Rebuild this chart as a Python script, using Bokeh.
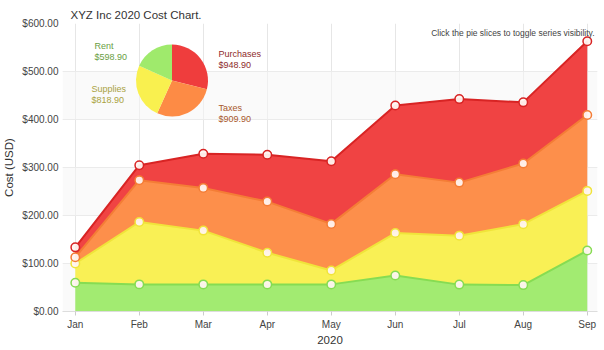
import numpy as np
from bokeh.plotting import figure
from bokeh.models import Range1d, FixedTicker, NumeralTickFormatter, Label, ColumnDataSource, BoxAnnotation
from bokeh.embed import file_html
from bokeh.resources import INLINE

# ---- data ----
months = ["Jan", "Feb", "Mar", "Apr", "May", "Jun", "Jul", "Aug", "Sep"]
rent = [60, 56.5, 56.5, 56.5, 56.5, 75, 56, 55, 126.9]
supplies = [40, 130, 112, 66, 29, 88.5, 102, 127, 124.4]
taxes = [13, 87, 89, 106.5, 97, 122.5, 110.5, 126.3, 158.1]
purchases = [20.6, 31.3, 71, 97.5, 130.5, 143, 174, 127.4, 153.6]
y_ticks = [0, 100, 200, 300, 400, 500, 600]

series_names = ["Rent", "Supplies", "Taxes", "Purchases"]
series_vals = [rent, supplies, taxes, purchases]
fill_cols = ["#9fea6c", "#f9f04f", "#fd8b45", "#ef3d3d"]
line_cols = ["#86dc52", "#f0e43a", "#f47d36", "#d82424"]
label_cols = ["#6a9e44", "#a9a23e", "#a8582c", "#8e2a2a"]

# ---- layout constants ----
W, H = 604, 350
FL, FR, FT, FB = 62, 597, 23, 311
X0, X1 = -0.2, 8.16
Y0, Y1 = 0, 600
FONT = "Liberation Sans"


def px2x(px):
    return X0 + (px - FL) / (FR - FL) * (X1 - X0)


def px2y(py):
    return Y0 + (FB - py) / (FB - FT) * (Y1 - Y0)


p = figure(width=W, height=H, output_backend="svg", toolbar_location=None,
           x_range=Range1d(X0, X1), y_range=Range1d(Y0, Y1),
           min_border_left=FL, min_border_right=W - FR,
           min_border_top=FT, min_border_bottom=H - FB,
           title="XYZ Inc 2020 Cost Chart.")
p.outline_line_color = None
p.background_fill_color = "white"
p.border_fill_color = "white"

p.title.text_font = FONT
p.title.text_font_size = "11.5px"
p.title.text_font_style = "normal"
p.title.text_color = "#333333"
p.title.align = "left"
p.title.offset = 8
p.title.standoff = 5

# axes
p.xaxis.ticker = FixedTicker(ticks=list(range(len(months))))
p.xaxis.major_label_overrides = {i: m for i, m in enumerate(months)}
p.xaxis.minor_tick_line_color = None
p.xaxis.major_tick_out = 4
p.xaxis.major_tick_in = 0
p.xaxis.major_tick_line_color = "#cccccc"
p.xaxis.axis_line_color = "#dddddd"
p.xaxis.major_label_standoff = 3
p.xaxis.major_label_text_font = FONT
p.xaxis.major_label_text_font_size = "10px"
p.xaxis.major_label_text_color = "#444444"
p.xaxis.axis_label = "2020"
p.xaxis.axis_label_standoff = 3
p.xaxis.axis_label_text_font = FONT
p.xaxis.axis_label_text_font_size = "11.5px"
p.xaxis.axis_label_text_font_style = "normal"
p.xaxis.axis_label_text_color = "#333333"

p.yaxis.ticker = FixedTicker(ticks=y_ticks)
p.yaxis.formatter = NumeralTickFormatter(format="$0,0.00")
p.yaxis.minor_tick_line_color = None
p.yaxis.major_tick_out = 0
p.yaxis.major_tick_in = 0
p.yaxis.axis_line_color = None
p.yaxis.major_label_standoff = 4
p.yaxis.major_label_text_font = FONT
p.yaxis.major_label_text_font_size = "10px"
p.yaxis.major_label_text_color = "#444444"
p.yaxis.axis_label = "Cost (USD)"
p.yaxis.axis_label_standoff = 4
p.yaxis.axis_label_text_font = FONT
p.yaxis.axis_label_text_font_size = "11.5px"
p.yaxis.axis_label_text_font_style = "normal"
p.yaxis.axis_label_text_color = "#333333"

p.xgrid.grid_line_color = "#e6e6e6"
p.ygrid.grid_line_color = "#e6e6e6"

# faint alternating bands
for lo in y_ticks[:-1:2]:
    p.add_layout(BoxAnnotation(bottom=lo, top=lo + 100, fill_color="#f5f5f5", fill_alpha=0.55,
                               line_color=None, level="underlay"))

# stacked areas
x = np.arange(len(months))
cum = np.zeros(len(months))
tops = []
for vals, fc in zip(series_vals, fill_cols):
    top = cum + np.array(vals)
    p.varea(x=x, y1=cum.copy(), y2=top, fill_color=fc, fill_alpha=0.97)
    tops.append(top)
    cum = top

for top, lc in zip(tops, line_cols):
    p.line(x=x, y=top, line_color=lc, line_width=2)
for top, lc in zip(tops, line_cols):
    p.scatter(x=x, y=top, size=8.5, marker="circle", fill_color="#fff4f0", fill_alpha=0.95,
              line_color=lc, line_width=1.5)

# pie
totals = [float(np.sum(v)) for v in series_vals]
grand = sum(totals)
pie_order = [3, 2, 1, 0]  # Purchases, Taxes, Supplies, Rent clockwise from top
start = np.pi / 2
starts, ends, cols = [], [], []
for i in pie_order:
    frac = totals[i] / grand
    end = start - 2 * np.pi * frac
    starts.append(start)
    ends.append(end)
    cols.append(fill_cols[i])
    start = end
pie_src = ColumnDataSource(dict(x=[px2x(171.5)] * 4, y=[px2y(80)] * 4,
                                s=starts, e=ends, c=cols))
p.wedge(x="x", y="y", radius=36, radius_units="screen", start_angle="s", end_angle="e",
        direction="clock", fill_color="c", line_color=None, source=pie_src)

# pie labels
label_pos = {"Rent": (94, 45), "Supplies": (91, 88), "Purchases": (218, 53), "Taxes": (218, 107)}
for name, tot, lc in zip(series_names, totals, label_cols):
    lx, ly = label_pos[name]
    for k, txt in enumerate([name, "${:,.2f}".format(tot)]):
        p.add_layout(Label(x=px2x(lx), y=px2y(ly + 11 * k), text=txt, text_font=FONT,
                           text_font_size="9px", text_color=lc, text_baseline="middle",
                           text_align="left"))

# note
p.add_layout(Label(x=px2x(594), y=px2y(32), text="Click the pie slices to toggle series visibility.",
                   text_font=FONT, text_font_size="8.5px", text_color="#444444",
                   text_baseline="middle", text_align="right"))

open("out.html", "w").write(file_html(p, INLINE))
